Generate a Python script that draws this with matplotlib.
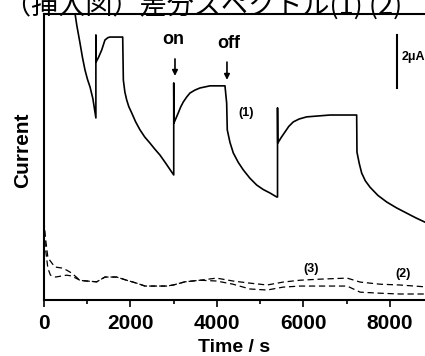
#
#   plot.py
#   current vs time with light on/off steps, plus two dashed reference traces
#

import matplotlib
matplotlib.use('Agg')
import matplotlib.pyplot as plt

# trace (1): photocurrent with on/off cycles (time in s, current in uA)
t1 = [647, 700, 760, 832, 890, 948, 1005, 1064, 1130, 1200, 1200, 1205, 1260,
      1334, 1410, 1480, 1526, 1820,
      1835, 1870, 1912, 1960, 2028, 2120, 2220, 2330, 2451, 2560, 2682, 2820,
      2953, 3000, 3000, 3005, 3050, 3105, 3160, 3220, 3300, 3376, 3490, 3607,
      3838, 4185, 4224, 4238, 4300, 4377, 4490, 4608, 4760, 4918, 5070, 5225,
      5380, 5400, 5400, 5405, 5480, 5572, 5660, 5764, 5900, 6074, 6613, 7230,
      7237, 7290, 7346, 7430, 7538, 7720, 7924, 8150, 8386, 8600, 8809, 8900]
i1 = [11.2, 11.0, 10.35, 9.70, 9.15, 8.68, 8.33, 8.04, 7.60, 6.87, 10.0, 8.98,
      9.15, 9.43, 9.81, 9.90, 9.92, 9.92,
      8.30, 7.85, 7.55, 7.30, 7.06, 6.72, 6.42, 6.15, 5.92, 5.70, 5.47, 5.15,
      4.83, 4.72, 8.19, 6.68, 6.85, 7.06, 7.28, 7.47, 7.66, 7.81, 7.92, 8.00,
      8.08, 8.08, 7.43, 6.42, 5.95, 5.55, 5.20, 4.91, 4.60, 4.34, 4.17, 4.04,
      3.89, 3.89, 7.25, 5.92, 6.12, 6.34, 6.55, 6.72, 6.83, 6.91, 6.98, 6.98,
      5.58, 5.15, 4.79, 4.50, 4.26, 3.95, 3.70, 3.48, 3.28, 3.10, 2.94, 2.88]

# trace (3): dashed, upper
t3 = [0, 30, 90, 250, 410, 525, 640, 830, 910, 1220, 1410, 1680, 1910, 2140,
      2335, 2600, 2840, 2990, 3260, 3610, 3990, 4370, 4760, 5160, 5530, 5920,
      6380, 7010, 7310, 7770, 8230, 8900]
i3 = [3.0, 2.4, 1.6, 1.25, 1.21, 1.13, 1.02, 0.75, 0.73, 0.69, 0.87, 0.87,
      0.75, 0.64, 0.53, 0.53, 0.53, 0.57, 0.69, 0.75, 0.83, 0.72, 0.64, 0.57,
      0.68, 0.75, 0.79, 0.83, 0.68, 0.60, 0.57, 0.49]

# trace (2): dashed, lower
t2 = [0, 30, 90, 150, 270, 410, 525, 640, 830, 910, 1220, 1410, 1680, 1910,
      2140, 2335, 2600, 2840, 2990, 3260, 3610, 3990, 4370, 4760, 5160, 5530,
      5920, 6380, 7010, 7310, 7770, 8230, 8900]
i2 = [3.0, 2.0, 1.2, 0.94, 0.87, 0.91, 0.94, 0.91, 0.75, 0.73, 0.69, 0.87,
      0.87, 0.75, 0.64, 0.53, 0.53, 0.53, 0.57, 0.69, 0.75, 0.72, 0.60, 0.42,
      0.38, 0.49, 0.53, 0.53, 0.53, 0.30, 0.26, 0.23, 0.23]

xticks = [0, 2000, 4000, 6000, 8000]
minor_xticks = [1000, 3000, 5000, 7000]

fig = plt.figure(figsize=(4.25, 3.56), dpi=100)
ax = fig.add_axes([0.1035, 0.157, 0.8965, 0.8037])

bold = dict(family='Liberation Sans', fontweight='bold')

ax.plot(t1, i1, color='black', lw=1.2)
ax.plot(t3, i3, color='black', lw=0.9, dashes=(5, 3))
ax.plot(t2, i2, color='black', lw=0.9, dashes=(5, 3))

ax.set_xlim(0, 8810)
ax.set_ylim(0, 10.79)

ax.spines['right'].set_visible(False)
for s in ['left', 'top', 'bottom']:
    ax.spines[s].set_linewidth(1.5)

ax.set_xticks(xticks)
ax.set_xticks(minor_xticks, minor=True)
ax.set_xticklabels([str(x) for x in xticks], fontsize=15, **bold)
ax.tick_params(axis='x', which='major', direction='out', length=5, width=1.2, pad=5)
ax.tick_params(axis='x', which='minor', direction='out', length=3, width=1.2)
ax.set_yticks([])

ax.set_xlabel('Time / s', fontsize=14, labelpad=4, **bold)
ax.set_ylabel('Current', fontsize=15, **bold)
ax.yaxis.set_label_coords(-0.031, 0.525)

# on / off markers
ax.text(2983, 9.81, 'on', ha='center', va='center', fontsize=13, **bold)
ax.text(4277, 9.66, 'off', ha='center', va='center', fontsize=13, **bold)
arrow = dict(arrowstyle='-|>', color='black', lw=1.2, mutation_scale=8)
ax.annotate('', xy=(3029, 8.35), xytext=(3029, 9.2), arrowprops=arrow)
ax.annotate('', xy=(4231, 8.2), xytext=(4231, 9.08), arrowprops=arrow)

ax.text(4671, 7.06, '(1)', ha='center', va='center', fontsize=9, **bold)
ax.text(6173, 1.17, '(3)', ha='center', va='center', fontsize=9, **bold)
ax.text(8301, 0.98, '(2)', ha='center', va='center', fontsize=9, **bold)

# scale bar 2 uA
ax.plot([8162, 8162], [8.0, 10.0], color='black', lw=1.5, clip_on=False)
ax.text(8277, 9.17, '2μA', ha='left', va='center', fontsize=9, clip_on=False, **bold)

# caption line cut off at the top of the scan
fig.text(0.01, 0.962, '（挿入図）差分スペクトル(1) (2)', ha='left', va='baseline',
         fontsize=19.5, family=['Noto Sans CJK JP', 'DejaVu Sans'])

fig.savefig('out.png', dpi=100)
